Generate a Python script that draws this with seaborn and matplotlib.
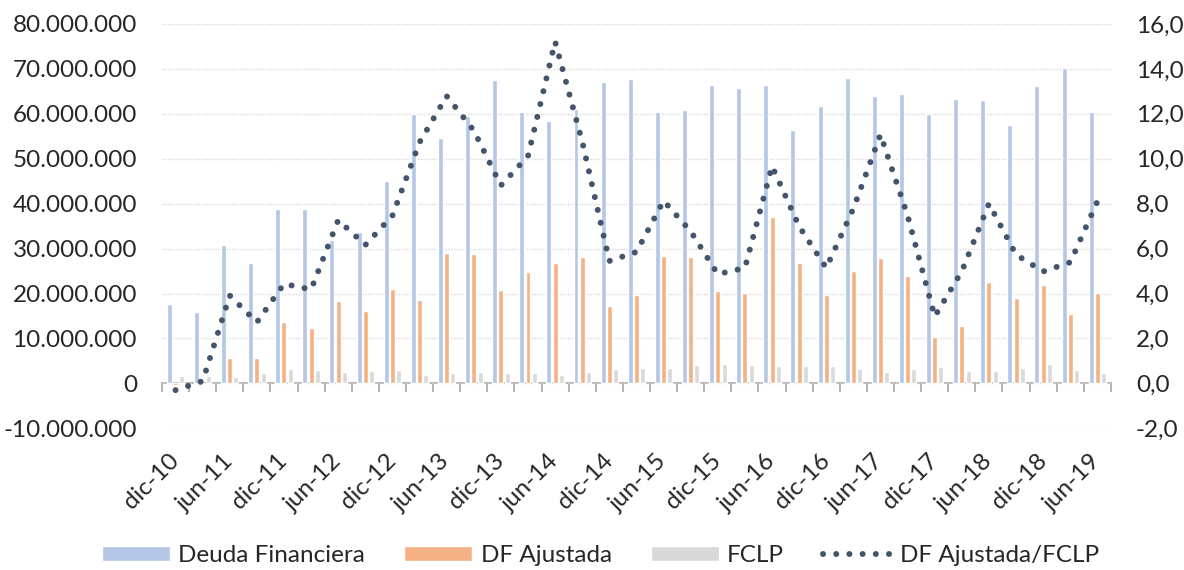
import numpy as np
import pandas as pd
import matplotlib
matplotlib.use("Agg")
import matplotlib.pyplot as plt
import seaborn as sns
from matplotlib.ticker import FuncFormatter, MultipleLocator
from matplotlib.lines import Line2D

# quarterly data, amounts in millions
quarters = ['dic-10', 'mar-11', 'jun-11', 'sep-11', 'dic-11', 'mar-12', 'jun-12', 'sep-12',
            'dic-12', 'mar-13', 'jun-13', 'sep-13', 'dic-13', 'mar-14', 'jun-14', 'sep-14',
            'dic-14', 'mar-15', 'jun-15', 'sep-15', 'dic-15', 'mar-16', 'jun-16', 'sep-16',
            'dic-16', 'mar-17', 'jun-17', 'sep-17', 'dic-17', 'mar-18', 'jun-18', 'sep-18',
            'dic-18', 'mar-19', 'jun-19']
deuda = [17.6, 15.9, 30.7, 26.8, 38.9, 38.9, 32.0, 33.8, 45.1, 60.0, 54.7, 59.6, 67.6, 60.4,
         58.5, 61.0, 67.1, 67.8, 60.4, 60.9, 66.4, 65.8, 66.4, 56.3, 61.8, 68.0, 64.0, 64.5,
         60.0, 63.3, 63.0, 57.6, 66.1, 70.2, 60.4]
df_ajustada = [-0.4, 0.0, 5.7, 5.6, 13.6, 12.4, 18.4, 16.1, 21.1, 18.6, 29.1, 28.7, 20.7, 24.7,
               26.9, 28.1, 17.3, 19.7, 28.4, 28.2, 20.6, 20.1, 37.1, 26.8, 19.6, 25.0, 27.9, 23.8,
               10.4, 12.8, 22.6, 19.0, 21.8, 15.4, 20.1]
fclp = [1.6, 1.6, 1.5, 2.2, 3.1, 3.0, 2.5, 2.7, 2.9, 1.8, 2.3, 2.5, 2.4, 2.4, 1.8, 2.6, 3.3,
        3.5, 3.4, 4.2, 4.3, 4.0, 3.8, 3.8, 3.9, 3.3, 2.5, 3.2, 3.6, 2.7, 2.7, 3.4, 4.4, 3.0, 2.4]
ratio = [-0.30, 0.10, 3.91, 2.72, 4.43, 4.18, 7.27, 6.16, 7.47, 10.73, 12.79, 11.26, 8.81, 10.12,
         15.21, 10.76, 5.45, 5.85, 8.13, 6.77, 4.86, 5.14, 9.67, 6.99, 5.14, 7.78, 11.08, 7.47,
         2.98, 4.99, 8.00, 5.73, 4.98, 5.39, 8.10]
tick_labels = quarters[::2]

series = ['Deuda Financiera', 'DF Ajustada', 'FCLP']
colors = ['#B4C7E7', '#F4B183', '#D9D9D9']
line_color = '#44546A'

df = pd.DataFrame({'quarter': quarters * 3,
                   'serie': np.repeat(series, len(quarters)),
                   'value': np.array(deuda + df_ajustada + fclp) * 1e6})

sns.set_style('white')
plt.rcParams['font.family'] = ['Lato', 'DejaVu Sans']
fs = 17.5

fig = plt.figure(figsize=(11.84, 5.70), dpi=100)
ax = fig.add_axes([0.1368, 0.2486, 0.8015, 0.7093])

sns.barplot(data=df, x='quarter', y='value', hue='serie', hue_order=series,
            palette=colors, saturation=1, width=0.69, gap=0.2, errorbar=None, ax=ax)
handles, labels = ax.get_legend_handles_labels()
ax.get_legend().remove()

ax.set_xlim(-0.5, len(quarters) - 0.5)
ax.set_ylim(-10e6, 80e6)
ax.yaxis.set_major_locator(MultipleLocator(10e6))
ax.yaxis.set_major_formatter(FuncFormatter(lambda v, _: f"{v:,.0f}".replace(",", ".")))
ax.grid(axis='y', color='#D9D9D9', linestyle=(0, (1, 1)), linewidth=1)
ax.set_axisbelow(True)
ax.set_xticks(range(0, len(quarters), 2))
ax.set_xticklabels(tick_labels, rotation=45, ha='right', va='center', rotation_mode='anchor')
ax.tick_params(axis='x', length=0, pad=21, labelsize=fs)
ax.tick_params(axis='y', length=0, pad=18, labelsize=fs)
ax.set_xlabel('')
ax.set_ylabel('')
for s in ax.spines.values():
    s.set_visible(False)

# axis line at zero with category boundary ticks
ymin, ymax = ax.get_ylim()
sec = ax.secondary_xaxis((0 - ymin) / (ymax - ymin))
sec.set_xticks(np.arange(-0.5, len(quarters), 1))
sec.set_xticklabels([])
sec.tick_params(axis='x', direction='out', length=6.5, width=1.2, color='#A6A6A6')
sec.spines['bottom'].set_color('#A6A6A6')
sec.spines['bottom'].set_linewidth(1.2)

ax2 = ax.twinx()
sns.lineplot(x=np.arange(len(quarters)), y=ratio, ax=ax2, color=line_color,
             linewidth=4.3, linestyle=(0, (0.01, 2.2)), dash_capstyle='round')
ax2.set_ylim(-2, 16)
ax2.yaxis.set_major_locator(MultipleLocator(2))
ax2.yaxis.set_major_formatter(FuncFormatter(lambda v, _: f"{v:.1f}".replace(".", ",")))
ax2.tick_params(axis='y', length=0, pad=18, labelsize=fs)
ax2.set_ylabel('')
for s in ax2.spines.values():
    s.set_visible(False)

line_handle = Line2D([], [], color=line_color, linewidth=4.3, linestyle=(0, (0.01, 2.2)),
                     dash_capstyle='round')
fig.legend(handles + [line_handle], labels + ['DF Ajustada/FCLP'], loc='center',
           bbox_to_anchor=(0.507, 0.025), ncol=4, frameon=False, fontsize=fs,
           handlelength=2.8, handleheight=0.55, handletextpad=0.35, columnspacing=1.6)

fig.savefig('out.png', dpi=100)
